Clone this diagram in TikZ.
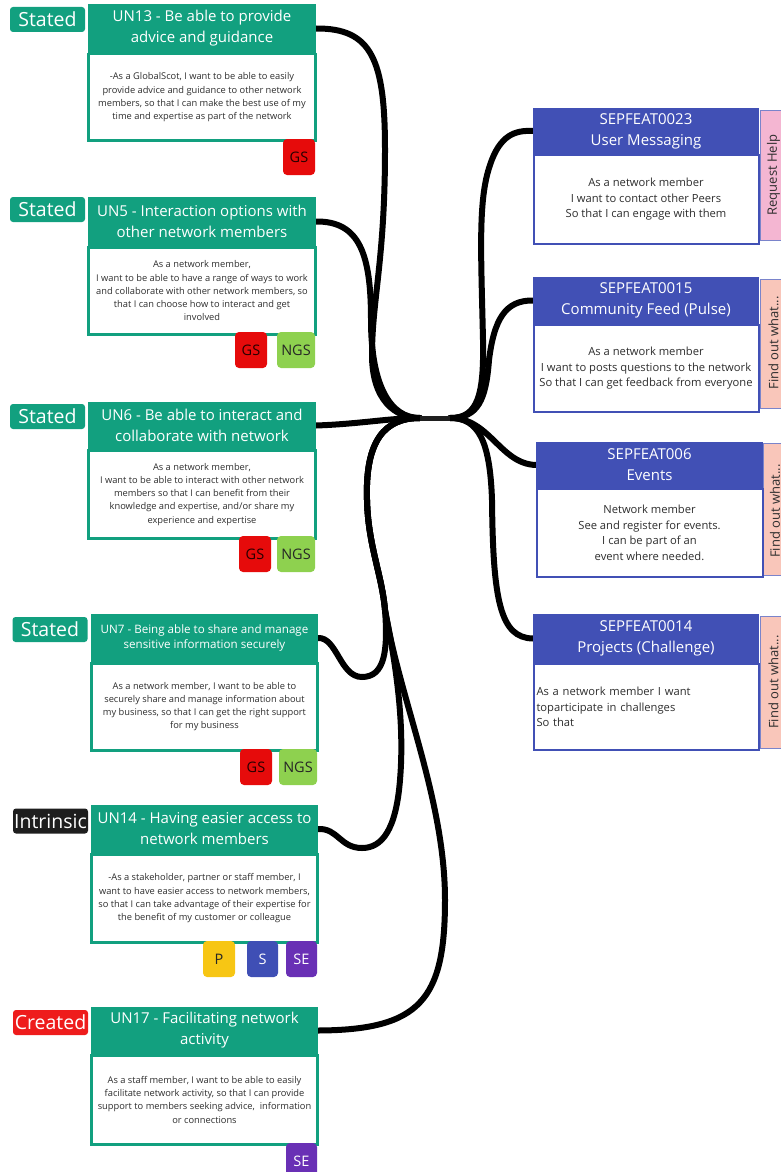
\documentclass[tikz,border=0pt]{standalone}
\usepackage{fontspec}
\setmainfont{Open Sans}
\definecolor{ungreen}{HTML}{12A07F}
\definecolor{sepblue}{HTML}{4150B5}
\definecolor{gsred}{HTML}{E60B0B}
\definecolor{ngsgreen}{HTML}{8ED14F}
\definecolor{pyellow}{HTML}{F7C614}
\definecolor{sblue}{HTML}{3F4FB5}
\definecolor{sepurple}{HTML}{6930B5}
\definecolor{tabpink}{HTML}{F4B6D2}
\definecolor{tabsalmon}{HTML}{F9C6BA}
\definecolor{createdred}{HTML}{EE1C1C}
\definecolor{intrblack}{HTML}{1E1E1E}
\definecolor{bodytxt}{HTML}{2E2E2E}
\pgfdeclarelayer{bg}
\pgfsetlayers{bg,main}
\begin{document}
\begin{tikzpicture}[x=1pt,y=-1pt,
  hdr/.style={fill=ungreen, draw=ungreen, line width=1pt, text=white, align=center, inner sep=0pt,
    anchor=north west, minimum width=#1, font=\fontsize{15}{21}\selectfont},
  hdr/.default=227pt,
  ubody/.style={fill=white, draw=ungreen, line width=2.5pt, text=bodytxt, align=center, inner sep=0pt,
    anchor=north, minimum width=#1, font=\fontsize{9.3}{13.2}\selectfont},
  ubody/.default=227pt,
  rhdr/.style={fill=sepblue, draw=sepblue, line width=1pt, text=white, align=center, inner sep=0pt,
    anchor=north west, minimum width=#1, font=\fontsize{15}{21}\selectfont},
  rhdr/.default=225pt,
  rbody/.style={fill=white, draw=sepblue, line width=2pt, text=bodytxt, align=center, inner sep=0pt,
    anchor=north, minimum width=#1, font=\fontsize{11.2}{15.5}\selectfont},
  rbody/.default=225pt,
  sidetab/.style={draw=sepblue!70, line width=1pt, inner sep=0pt, anchor=north west, minimum width=40pt},
  tabtext/.style={rotate=90, text=bodytxt, font=\fontsize{13}{13}\selectfont, inner sep=0pt},
  tagbox/.style={rounded corners=3pt, text=white, inner sep=0pt, minimum width=75pt, minimum height=25pt,
    font=\fontsize{19.5}{19.5}\selectfont},
  badge/.style={rounded corners=4pt, inner sep=0pt, minimum height=36pt, minimum width=#1,
    font=\fontsize{14.5}{14.5}\selectfont},
  badge/.default=32pt,
  link/.style={draw=black, line width=6pt, line cap=round}
]
\useasboundingbox (0,0) rectangle (781,1172);
\clip (0,0) rectangle (781,1172);

% ---------- left cards ----------
\node[tagbox, fill=ungreen] (t13) at (47.5,19.5) {Stated};
\node[hdr, minimum height=48pt] (h13) at (88,4) {UN13 - Be able to provide\\advice and guidance};
\node[ubody, minimum height=86pt] (b13) at (h13.south) {-As a GlobalScot, I want to be able to easily\\provide advice and guidance to other network\\members, so that I can make the best use of my\\time and expertise as part of the network};
\node[badge, fill=gsred, text=black!85!red] (g13) at (299,157) {GS};

\node[tagbox, fill=ungreen] (t5) at (47.5,209.5) {Stated};
\node[hdr, minimum height=48pt] (h5) at (88,197) {UN5 - Interaction options with\\other network members};
\node[ubody, minimum height=87pt] (b5) at (h5.south) {As a network member,\\I want to be able to have a range of ways to work\\and collaborate with other network members, so\\that I can choose how to interact and get\\involved};
\node[badge, fill=gsred, text=black!85!red] (g5) at (251,350) {GS};
\node[badge=38pt, fill=ngsgreen, text=black!85] (n5) at (296,350) {NGS};

\node[tagbox, fill=ungreen] (t6) at (47.5,416.5) {Stated};
\node[hdr, minimum height=46pt] (h6) at (88,402) {UN6 - Be able to interact and\\collaborate with network};
\node[ubody, minimum height=88pt] (b6) at (h6.south) {As a network member,\\I want to be able to interact with other network\\members so that I can benefit from their\\knowledge and expertise, and/or share my\\experience and expertise};
\node[badge, fill=gsred, text=black!85!red] (g6) at (255,554) {GS};
\node[badge=38pt, fill=ngsgreen, text=black!85] (n6) at (296,554) {NGS};

\node[tagbox, fill=ungreen] (t7) at (50,629.5) {Stated};
\node[hdr=226pt, minimum height=47pt, font=\fontsize{11.6}{15}\selectfont] (h7) at (91,614) {UN7 - Being able to share and manage\\sensitive information securely};
\node[ubody=226pt, minimum height=87pt] (b7) at (h7.south) {As a network member, I want to be able to\\securely share and manage information about\\my business, so that I can get the right support\\for my business};
\node[badge, fill=gsred, text=black!85!red] (g7) at (256,767) {GS};
\node[badge=38pt, fill=ngsgreen, text=black!85] (n7) at (298,767) {NGS};

\node[tagbox, fill=intrblack] (t14) at (50.5,821) {Intrinsic};
\node[hdr=226pt, minimum height=47pt] (h14) at (91,805) {UN14 - Having easier access to\\network members};
\node[ubody=226pt, minimum height=88pt] (b14) at (h14.south) {-As a stakeholder, partner or staff member, I\\want to have easier access to network members,\\so that I can take advantage of their expertise for\\the benefit of my customer or colleague};
\node[badge, fill=pyellow, text=black!85] (p14) at (219,959) {P};
\node[badge=31pt, fill=sblue, text=white] (s14) at (262.5,959) {S};
\node[badge=31pt, fill=sepurple, text=white] (se14) at (301.5,959) {SE};

\node[tagbox, fill=createdred] (t17) at (50.5,1022.5) {Created};
\node[hdr=226pt, minimum height=46pt] (h17) at (91,1007) {UN17 - Facilitating network\\activity};
\node[ubody=226pt, minimum height=89pt] (b17) at (h17.south) {As a staff member, I want to be able to easily\\facilitate network activity, so that I can provide\\support to members seeking advice,\ \ information\\or connections};
\node[badge=31pt, fill=sepurple, text=white] (se17) at (301.5,1161) {SE};

% ---------- right cards ----------
\node[sidetab, fill=tabpink, minimum height=130pt] (k1) at (760,110) {};
\node[tabtext] (q1) at (773.5,175) {Request Help};
\node[rhdr, minimum height=45pt] (r1) at (533,108) {SEPFEAT0023\\User Messaging};
\node[rbody, minimum height=89pt] (rb1) at (r1.south) {As a network member\\I want to contact other Peers\\So that I can engage with them};

\node[sidetab, fill=tabsalmon, minimum height=129pt] (k2) at (760,279) {};
\node[tabtext] (q2) at (773.5,343) {Find out what...};
\node[rhdr, minimum height=46pt] (r2) at (533,277) {SEPFEAT0015\\Community Feed (Pulse)};
\node[rbody, minimum height=87pt] (rb2) at (r2.south) {As a network member\\I want to posts questions to the network\\So that I can get feedback from everyone};

\node[sidetab, fill=tabsalmon, minimum height=132pt] (k3) at (763,443) {};
\node[tabtext] (q3) at (775,511) {Find out what...};
\node[rhdr=226pt, minimum height=45pt] (r3) at (536,442) {SEPFEAT006\\Events};
\node[rbody=226pt, minimum height=88pt] (rb3) at (r3.south) {Network member\\See and register for events.\\I can be part of an\\event where needed.};

\node[sidetab, fill=tabsalmon, minimum height=132pt] (k4) at (760,616) {};
\node[tabtext] (q4) at (773.5,682) {Find out what...};
\node[rhdr, minimum height=48pt] (r4) at (533,614) {SEPFEAT0014\\Projects (Challenge)};
\node[rbody, minimum height=86pt, text width=219pt, align=left, inner xsep=3pt] (rb4) at (r4.south) {As a network member I want\\toparticipate in challenges\\So that};

% ---------- hub ----------
\node[fill=black!88, inner sep=0pt, minimum width=30pt, minimum height=5pt] (hub) at (435,418) {};

% ---------- connectors ----------
\begin{pgfonlayer}{bg}
\draw[link] (h13.east) .. controls (372,28) and (385,60) .. (385,150)
  .. controls (385,260) and (372,300) .. (372,355)
  .. controls (372,400) and (395,418) .. (hub.west);
\draw[link] (h5.east) .. controls (360,221) and (371,255) .. (371,320)
  .. controls (371,385) and (390,418) .. (hub.west);
\draw[link] (h6.east) .. controls (360,424) and (390,418) .. (hub.west);
\draw[link] (hub.west) .. controls (385,418) and (365,440) .. (367,500)
  .. controls (368,545) and (382,575) .. (385,610)
  .. controls (388,650) and (385,677) .. (362,677)
  .. controls (340,677) and (337,637) .. (h7.east);
\draw[link] (hub.west) .. controls (385,418) and (365,440) .. (367,500)
  .. controls (368,545) and (382,575) .. (385,610)
  .. controls (395,660) and (405,720) .. (400,780)
  .. controls (396,830) and (382,848) .. (362,848)
  .. controls (340,848) and (338,828) .. (h14.east);
\draw[link] (hub.west) .. controls (385,418) and (365,440) .. (367,500)
  .. controls (368,545) and (382,575) .. (385,610)
  .. controls (400,700) and (445,800) .. (445,900)
  .. controls (445,1000) and (420,1030) .. (h17.east);
\draw[link] (hub.east) .. controls (478,418) and (484,395) .. (483,340)
  .. controls (481,250) and (478,200) .. (490,165)
  .. controls (500,135) and (515,130) .. (r1.west);
\draw[link] (hub.east) .. controls (478,418) and (486,400) .. (489,360)
  .. controls (494,320) and (505,300) .. (r2.west);
\draw[link] (hub.east) .. controls (490,418) and (500,464) .. (r3.west);
\draw[link] (hub.east) .. controls (478,418) and (490,440) .. (492,500)
  .. controls (493,600) and (500,638) .. (r4.west);
\end{pgfonlayer}
\end{tikzpicture}
\end{document}
